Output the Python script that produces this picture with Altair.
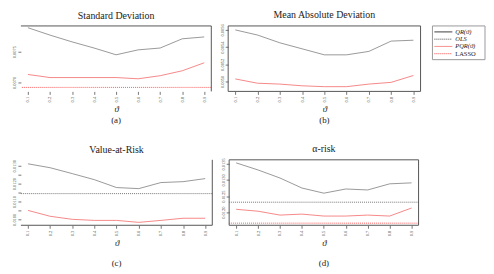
import altair as alt
import pandas as pd

theta = [0.1, 0.2, 0.3, 0.4, 0.5, 0.6, 0.7, 0.8, 0.9]

# (a) Standard Deviation
sd_qr = [0.00789, 0.00777, 0.00766, 0.00756, 0.00745, 0.00753, 0.00756, 0.00771, 0.00774]
sd_pqr = [0.00713, 0.00708, 0.00708, 0.00708, 0.00708, 0.00706, 0.00711, 0.00719, 0.00732]
sd_lasso = 0.00692
sd_ticks = [0.0070, 0.0075]

# (b) Mean Absolute Deviation
mad_qr = [0.00560, 0.00554, 0.00545, 0.00538, 0.00531, 0.00531, 0.00535, 0.00547, 0.00548]
mad_pqr = [0.00503, 0.00498, 0.00497, 0.00495, 0.00494, 0.00494, 0.00497, 0.00499, 0.00507]
mad_ticks = [0.0050, 0.0052, 0.0054, 0.0056]

# (c) Value-at-Risk
var_qr = [0.01311, 0.01289, 0.01256, 0.01222, 0.01178, 0.01172, 0.01206, 0.01211, 0.01228]
var_pqr = [0.01050, 0.01017, 0.01000, 0.00994, 0.00994, 0.00983, 0.00994, 0.01006, 0.01006]
var_ols = 0.01144
var_ticks = [0.0100, 0.0105, 0.0110, 0.0115, 0.0120, 0.0125, 0.0130]

# (d) alpha-risk
ar_qr = [0.01353, 0.01331, 0.01306, 0.01275, 0.01259, 0.01272, 0.01269, 0.01288, 0.01291]
ar_pqr = [0.01209, 0.01203, 0.01191, 0.01194, 0.01188, 0.01188, 0.01191, 0.01188, 0.01213]
ar_ols = 0.01231
ar_lasso = 0.01166
ar_ticks = [0.0120, 0.0125, 0.0130, 0.0135]

titles = ["Standard Deviation", "Mean Absolute Deviation", "Value-at-Risk", "α-risk"]
captions = ["(a)", "(b)", "(c)", "(d)"]
legend_items = ["QR(ϑ)", "OLS", "PQR(ϑ)", "LASSO"]

SERIF = "Liberation Serif"
QR_COL = "#555555"
PQR_COL = "#f46a6a"
LASSO_COL = "#ff3030"
FRAME = "#555555"


def panel(title, caption, qr, pqr, ols, lasso, ydom, yticks, w, h, edges,
          cap_off, label_expr=None):
    xax = alt.Axis(values=theta, format=".1f", title="ϑ", labelAngle=270,
                   labelAlign="right", labelBaseline="middle", labelPadding=2,
                   titlePadding=3)
    yax_kw = dict(values=yticks, format=".4f", title=None, labelAngle=270,
                  labelAlign="center", labelBaseline="bottom", labelPadding=1)
    if label_expr:
        yax_kw["labelExpr"] = label_expr
    yax = alt.Axis(**yax_kw)
    X = alt.X("theta:Q", scale=alt.Scale(domain=[0.068, 0.932], nice=False, zero=False), axis=xax)
    Y = alt.Y("v:Q", scale=alt.Scale(domain=ydom, nice=False, zero=False), axis=yax)

    layers = []
    dqr = pd.DataFrame({"theta": theta, "v": qr})
    layers.append(alt.Chart(dqr).mark_line(color=QR_COL, strokeWidth=0.6, clip=True).encode(x=X, y=Y))
    dpq = pd.DataFrame({"theta": theta, "v": pqr})
    layers.append(alt.Chart(dpq).mark_line(color=PQR_COL, strokeWidth=0.8, clip=True).encode(x=X, y=Y))
    if ols is not None:
        layers.append(alt.Chart(pd.DataFrame({"v": [ols]})).mark_rule(
            color=QR_COL, strokeWidth=0.8, strokeDash=[1, 1]).encode(y=Y))
    if lasso is not None:
        layers.append(alt.Chart(pd.DataFrame({"v": [lasso]})).mark_rule(
            color=LASSO_COL, strokeWidth=0.8, strokeDash=[1, 1]).encode(y=Y))

    dummy = pd.DataFrame({"k": [0]})
    edge_enc = {
        "top": dict(x=alt.value(0), x2=alt.value(w), y=alt.value(0)),
        "bottom": dict(x=alt.value(0), x2=alt.value(w), y=alt.value(h)),
        "left": dict(x=alt.value(0), y=alt.value(0), y2=alt.value(h)),
        "right": dict(x=alt.value(w), y=alt.value(0), y2=alt.value(h)),
    }
    for e in edges:
        layers.append(alt.Chart(dummy).mark_rule(color=FRAME, strokeWidth=1).encode(**edge_enc[e]))

    layers.append(alt.Chart(pd.DataFrame({"t": [caption]})).mark_text(
        font=SERIF, fontSize=9, baseline="middle", color="#222").encode(
        x=alt.value(w / 2), y=alt.value(h + cap_off), text="t:N"))

    return alt.layer(*layers).properties(
        width=w, height=h,
        title=alt.TitleParams(title, font=SERIF, fontSize=10, fontWeight="normal",
                              color="#222", offset=4, anchor="middle", frame="group"))


pa = panel(titles[0], captions[0], sd_qr, sd_pqr, None, sd_lasso,
           [0.006855, 0.007919], sd_ticks, 192, 66, ["top", "right"], 29)
pb = panel(titles[1], captions[1], mad_qr, mad_pqr, None, None,
           [0.004885, 0.005646], mad_ticks, 194, 66, ["top", "bottom", "left", "right"], 29)
pc = panel(titles[2], captions[2], var_qr, var_pqr, var_ols, None,
           [0.009667, 0.013333], var_ticks, 193, 66, ["bottom", "right"], 38,
           label_expr="round(datum.value*10000) % 10 == 0 ? format(datum.value, '.4f') : ''")
pd_ = panel(titles[3], captions[3], ar_qr, ar_pqr, ar_ols, ar_lasso,
            [0.011594, 0.013625], ar_ticks, 191, 66, ["top", "bottom", "left", "right"], 38)

# legend
leg_df = pd.DataFrame({"item": legend_items, "idx": [0, 1, 2, 3]})
LY = alt.Y("idx:Q", scale=alt.Scale(domain=[0, 3], range=[6, 28]), axis=None)
leg_box = alt.Chart(pd.DataFrame({"k": [0]})).mark_rect(
    fill="white", stroke="#999999", strokeWidth=1).encode(
    x=alt.value(5), x2=alt.value(58), y=alt.value(0), y2=alt.value(34))
leg_rules = alt.Chart(leg_df).mark_rule(strokeWidth=0.9).encode(
    x=alt.value(7), x2=alt.value(25), y=LY,
    color=alt.Color("item:N", scale=alt.Scale(domain=legend_items,
                    range=["#111111", "#333333", PQR_COL, LASSO_COL]), legend=None),
    strokeDash=alt.StrokeDash("item:N", scale=alt.Scale(domain=legend_items,
                              range=[[1, 0], [1, 1], [1, 0], [1, 1]]), legend=None))
leg_text_it = alt.Chart(leg_df).transform_filter("datum.item != 'LASSO'").mark_text(
    font=SERIF, fontSize=6.5, fontStyle="italic", align="left", baseline="middle",
    color="#222").encode(x=alt.value(28), y=LY, text="item:N")
leg_text = alt.Chart(leg_df).transform_filter("datum.item == 'LASSO'").mark_text(
    font=SERIF, fontSize=6.5, align="left", baseline="middle",
    color="#222").encode(x=alt.value(28), y=LY, text="item:N")
legend = alt.layer(leg_box, leg_rules, leg_text_it, leg_text).properties(width=58, height=34)

row1 = alt.hconcat(pa, pb, legend, spacing=6)
row2 = alt.hconcat(pc, pd_, spacing=6)

chart = alt.vconcat(row1, row2, spacing=18).properties(
    padding={"left": 3, "top": 0, "right": 0, "bottom": 0}
).configure_view(stroke=None).configure_title(
    font=SERIF, fontWeight="normal"
).configure_axis(
    domain=False, grid=False, tickColor=FRAME, tickSize=3, tickWidth=0.8,
    labelFont=SERIF, labelFontSize=4.5, labelColor="#444",
    titleFont=SERIF, titleFontSize=9, titleFontStyle="italic",
    titleFontWeight="normal", titleColor="#222"
)

chart.save("out.html", embed_options={"renderer": "svg", "actions": False})
